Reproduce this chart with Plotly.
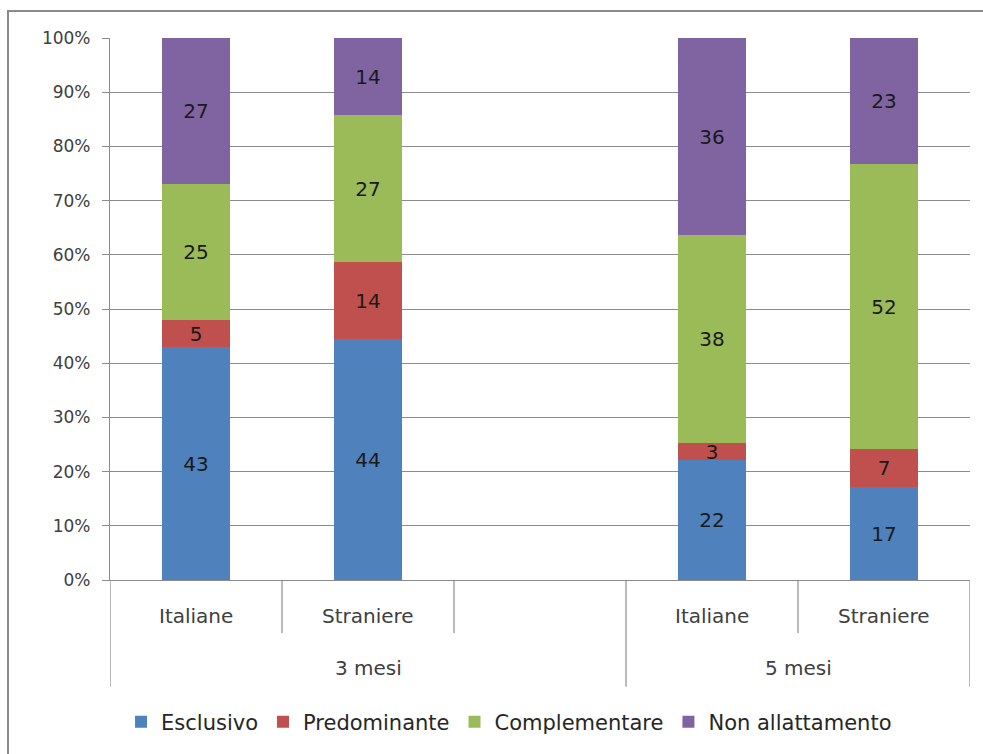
import plotly.graph_objects as go

# Categories: two age groups, each with Italian and foreign mothers; slot 2 is an empty spacer
groups = ["3 mesi", "5 mesi"]
subgroups = ["Italiane", "Straniere", "Italiane", "Straniere"]
slots = [0, 1, 3, 4]

series_names = ["Esclusivo", "Predominante", "Complementare", "Non allattamento"]
esclusivo = [43, 44, 22, 17]
predominante = [5, 14, 3, 7]
complementare = [25, 27, 38, 52]
non_allattamento = [27, 14, 36, 23]

colors = ["#4F81BD", "#C0504D", "#9BBB59", "#8064A2"]
FONT = "DejaVu Sans"
GRID = "#8C8C8C"

fig = go.Figure()
for name, vals, col in zip(series_names,
                           [esclusivo, predominante, complementare, non_allattamento],
                           colors):
    fig.add_trace(go.Bar(
        x=slots, y=vals, name=name, width=0.39,
        marker=dict(color=col, line=dict(width=0)),
        text=[str(v) for v in vals], texttemplate="%{text}",
        textposition="inside", insidetextanchor="middle",
        textfont=dict(family=FONT, size=20, color="#1a1a1a"),
        textangle=0, constraintext="none",
        hoverinfo="name+y",
    ))

# Category labels under the bars
for s, lab in zip(slots, subgroups):
    fig.add_annotation(x=s, y=-0.066, xref="x", yref="paper", text=lab,
                       xanchor="center", yanchor="middle",
                       showarrow=False, font=dict(family=FONT, size=20, color="#404040"))
for cx, lab in zip([1, 3.5], groups):
    fig.add_annotation(x=cx, y=-0.162, xref="x", yref="paper", text=lab,
                       xanchor="center", yanchor="middle",
                       showarrow=False, font=dict(family=FONT, size=20, color="#404040"))

# Separators of the two-level category axis
line_style = dict(color=GRID, width=1.2)
for xb in [-0.5, 2.5, 4.5]:
    fig.add_shape(type="line", xref="x", yref="paper", x0=xb, x1=xb, y0=0, y1=-0.197,
                  line=line_style)
for xb in [0.5, 1.5, 3.5]:
    fig.add_shape(type="line", xref="x", yref="paper", x0=xb, x1=xb, y0=0, y1=-0.098,
                  line=line_style)

# Chart frame
fig.add_shape(type="rect", xref="paper", yref="paper", x0=-0.1186, x1=1.2, y0=-0.5, y1=1.0498,
              line=dict(color="#8A8A8A", width=2), layer="below")

fig.update_layout(
    width=983, height=754,
    margin=dict(l=110, r=13, t=38, b=174),
    paper_bgcolor="white", plot_bgcolor="white",
    barmode="stack", barnorm="percent",
    bargap=0,
    showlegend=True,
    legend=dict(orientation="h", x=0.464, xanchor="center", y=-0.262, yanchor="middle",
                font=dict(family=FONT, size=21, color="#262626"),
                itemwidth=30, traceorder="normal"),
    font=dict(family=FONT),
    xaxis=dict(range=[-0.5, 4.5], showticklabels=False, ticks="", showgrid=False,
               zeroline=False, showline=True, linecolor=GRID, linewidth=1.2, fixedrange=True),
    yaxis=dict(range=[0, 100], dtick=10, ticksuffix="%", showgrid=True, gridcolor=GRID,
               gridwidth=1, zeroline=False, showline=True, linecolor=GRID, linewidth=1.2,
               ticks="outside", ticklen=7, tickcolor=GRID, ticklabelstandoff=8,
               tickfont=dict(family=FONT, size=17, color="#404040"), fixedrange=True),
)

fig.write_html("out.html")
